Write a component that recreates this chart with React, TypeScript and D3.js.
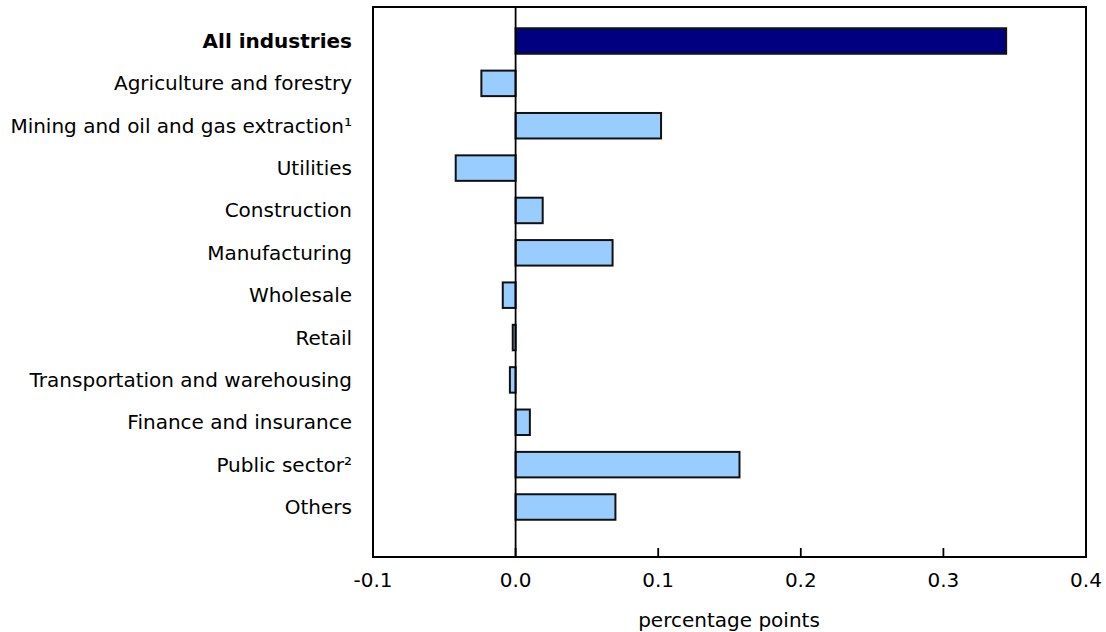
import React from "react";
import * as d3 from "d3";

const categories = [
  "All industries",
  "Agriculture and forestry",
  "Mining and oil and gas extraction¹",
  "Utilities",
  "Construction",
  "Manufacturing",
  "Wholesale",
  "Retail",
  "Transportation and warehousing",
  "Finance and insurance",
  "Public sector²",
  "Others",
];
const values = [0.344, -0.024, 0.102, -0.042, 0.019, 0.068, -0.009, -0.002, -0.004, 0.01, 0.157, 0.07];
const xTicks = [-0.1, 0, 0.1, 0.2, 0.3, 0.4];
const xTitle = "percentage points";

const W = 1106;
const H = 632;
const left = 373;
const right = 1086;
const top = 7;
const bottom = 557;

export default function App() {
  const x = d3.scaleLinear().domain([-0.1, 0.4]).range([left, right]);
  const y = d3.scalePoint<string>().domain(categories).range([41, 507]);
  const bh = 25.5;
  const font = "Verdana, 'DejaVu Sans', sans-serif";
  const fs = 20;
  return (
    <div style={{ position: "absolute", left: 0, top: 0 }}>
      <svg width={W} height={H} style={{ display: "block" }} fontFamily={font}>
        <rect x={0} y={0} width={W} height={H} fill="#fff" />
        {categories.map((c, i) => {
          const v = values[i];
          const x0 = x(Math.min(0, v));
          const x1 = x(Math.max(0, v));
          const cy = y(c)!;
          return (
            <g key={c}>
              <rect
                x={x0}
                y={cy - bh / 2}
                width={x1 - x0}
                height={bh}
                fill={i === 0 ? "#000080" : "#99CCFF"}
                stroke="#111"
                strokeWidth={2}
              />
              <text
                x={352}
                y={cy}
                dy="0.35em"
                textAnchor="end"
                fontSize={fs}
                fontWeight={i === 0 ? "bold" : "normal"}
                fill="#000"
              >
                {c}
              </text>
            </g>
          );
        })}
        <line x1={x(0)} x2={x(0)} y1={top} y2={bottom} stroke="#000" strokeWidth={1.8} />
        <rect x={left} y={top} width={right - left} height={bottom - top} fill="none" stroke="#000" strokeWidth={2} />
        {xTicks.map((t) => (
          <g key={t}>
            <line x1={x(t)} x2={x(t)} y1={bottom} y2={bottom - 9} stroke="#000" strokeWidth={1.8} />
            <text x={x(t)} y={580} dy="0.35em" textAnchor="middle" fontSize={fs} fill="#000">
              {t.toFixed(1)}
            </text>
          </g>
        ))}
        <text x={729} y={620} dy="0.35em" textAnchor="middle" fontSize={fs} fill="#000">
          {xTitle}
        </text>
      </svg>
    </div>
  );
}
